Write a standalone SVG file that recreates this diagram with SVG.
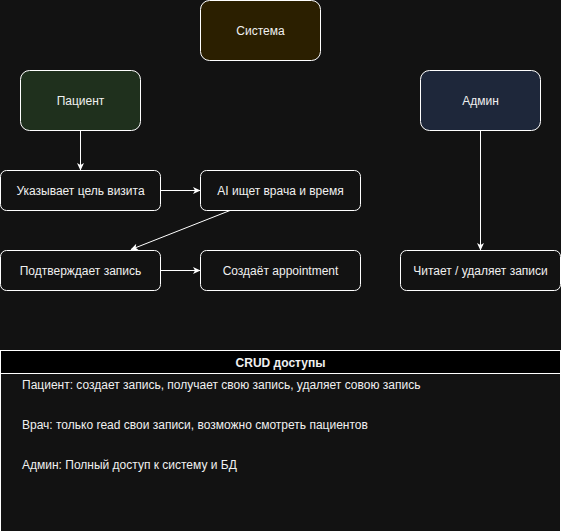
<svg xmlns="http://www.w3.org/2000/svg" width="561" height="531" viewBox="0 0 561 531">
<defs>
<marker id="ah" markerWidth="8" markerHeight="8" refX="7" refY="4" orient="auto" markerUnits="userSpaceOnUse">
<path d="M0,0.5 L7.5,4 L0,7.5 L2,4 Z" fill="#ffffff"/>
</marker>
<style>
text{font-family:"Liberation Sans",Arial,sans-serif;font-size:12px;fill:#f0f0f0;text-anchor:middle;dominant-baseline:central}
.n{stroke:#ffffff;stroke-width:1;fill:#121212}
.c{stroke:#ffffff;stroke-width:1;fill:none;marker-end:url(#ah)}
.l{text-anchor:start}
</style>
</defs>
<rect width="561" height="531" fill="#121212"/>
<g id="sistema"><rect class="n" x="200.5" y="0.5" width="120" height="60" rx="9" style="fill:#2b1f00"/><text x="260.5" y="31">Система</text></g>
<g id="pacient"><rect class="n" x="20.5" y="70.5" width="120" height="60" rx="9" style="fill:#1f301d"/><text x="80.5" y="101">Пациент</text></g>
<g id="admin"><rect class="n" x="420.5" y="70.5" width="120" height="60" rx="9" style="fill:#1e273a"/><text x="480.5" y="101">Админ</text></g>
<g id="ukazyvaet"><rect class="n" x="0.5" y="170.5" width="160" height="40" rx="6"/><text x="80.5" y="191">Указывает цель визита</text></g>
<g id="ai"><rect class="n" x="200.5" y="170.5" width="160" height="40" rx="6"/><text x="280.5" y="191">AI ищет врача и время</text></g>
<g id="podtverzhdaet"><rect class="n" x="0.5" y="250.5" width="160" height="40" rx="6"/><text x="80.5" y="271">Подтверждает запись</text></g>
<g id="sozdaet"><rect class="n" x="200.5" y="250.5" width="160" height="40" rx="6"/><text x="280.5" y="271">Создаёт appointment</text></g>
<g id="chitaet"><rect class="n" x="400.5" y="250.5" width="160" height="40" rx="6"/><text x="480.5" y="271">Читает / удаляет записи</text></g>
<g id="connectors">
<line class="c" x1="80.5" y1="130.5" x2="80.5" y2="170"/>
<line class="c" x1="160.5" y1="190.5" x2="200" y2="190.5"/>
<line class="c" x1="230" y1="210.5" x2="131" y2="249.5"/>
<line class="c" x1="160.5" y1="270.5" x2="200" y2="270.5"/>
<line class="c" x1="480.5" y1="130.5" x2="480.5" y2="250"/>
</g>
<g id="crud">
<rect x="0.5" y="350.5" width="560" height="185" fill="#121212" stroke="#ffffff"/>
<rect x="0.5" y="350.5" width="560" height="23" fill="#000000" stroke="#ffffff"/>
<text x="280.5" y="363" style="font-weight:bold">CRUD доступы</text>
<text class="l" x="22" y="385">Пациент: создает запись, получает свою запись, удаляет совою запись</text>
<text class="l" x="22" y="425">Врач: только read свои записи, возможно смотреть пациентов</text>
<text class="l" x="22" y="465">Админ: Полный доступ к систему и БД</text>
</g>
</svg>
